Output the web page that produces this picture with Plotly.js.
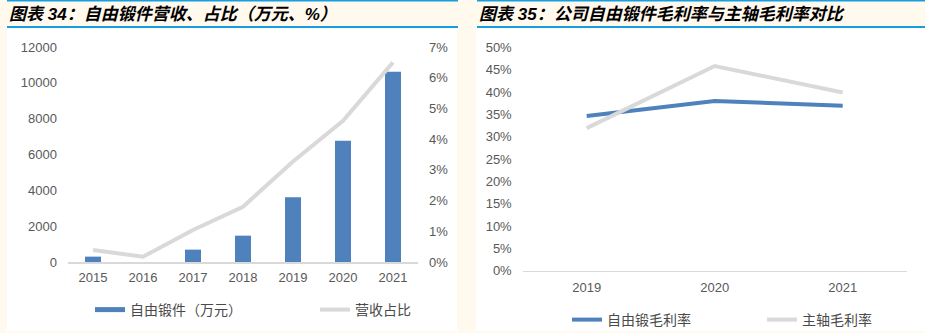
<!DOCTYPE html>
<html>
<head>
<meta charset="utf-8">
<script src="https://cdn.plot.ly/plotly-3.0.1.min.js"></script>
<style>
html,body{margin:0;padding:0;background:#FFF9EE;}
#chart{width:925px;height:333px;}
</style>
</head>
<body>
<div id="chart"></div>
<script>
// ---- Data ----
const years1 = ['2015', '2016', '2017', '2018', '2019', '2020', '2021'];
const forgingRevenue = [300, 0, 690, 1470, 3620, 6770, 10620]; // 万元
const revenueShare = [0.0039, 0.0017, 0.0104, 0.018, 0.0327, 0.046, 0.065];

const years2 = ['2019', '2020', '2021'];
const forgingMargin = [0.346, 0.380, 0.369];
const spindleMargin = [0.319, 0.458, 0.399];

const title1 = '图表 34：自由锻件营收、占比（万元、%）';
const title2 = '图表 35：公司自由锻件毛利率与主轴毛利率对比';
const name1 = '自由锻件（万元）';
const name2 = '营收占比';
const name3 = '自由锻毛利率';
const name4 = '主轴毛利率';

// ---- Styles ----
const W = 925, H = 333;
const px = v => v / W;
const py = v => 1 - v / H;
const BLUE = '#4F81BD';
const GRAY = '#D9D9D9';
const TICK = '#595959';
const CJK = '"Noto Sans CJK SC", sans-serif';

const traces = [
  {type: 'bar', x: years1, y: forgingRevenue, xaxis: 'x', yaxis: 'y',
   marker: {color: BLUE}, name: name1, showlegend: false, hoverinfo: 'skip'},
  {type: 'scatter', mode: 'lines', x: [null], y: [null], xaxis: 'x', yaxis: 'y',
   line: {color: BLUE, width: 5}, name: name1, legend: 'legend'},
  {type: 'scatter', mode: 'lines', x: years1, y: revenueShare, xaxis: 'x', yaxis: 'y2',
   line: {color: GRAY, width: 4}, name: name2, legend: 'legend'},
  {type: 'scatter', mode: 'lines', x: years2, y: forgingMargin, xaxis: 'x2', yaxis: 'y3',
   line: {color: BLUE, width: 4}, name: name3, legend: 'legend2'},
  {type: 'scatter', mode: 'lines', x: years2, y: spindleMargin, xaxis: 'x2', yaxis: 'y3',
   line: {color: GRAY, width: 4}, name: name4, legend: 'legend2'}
];

const axisBase = {showgrid: false, zeroline: false, ticks: '', fixedrange: true};
const legendBase = {orientation: 'h', xanchor: 'left', yanchor: 'middle',
  bgcolor: 'rgba(0,0,0,0)', borderwidth: 0, traceorder: 'normal',
  entrywidthmode: 'pixels', font: {family: CJK, size: 14, color: '#4A4A4A'}};

const layout = {
  width: W, height: H,
  margin: {l: 0, r: 0, t: 0, b: 0, pad: 0, autoexpand: false},
  paper_bgcolor: '#FFF9EE',
  plot_bgcolor: 'rgba(0,0,0,0)',
  bargap: 0.68,
  font: {family: '"Liberation Sans", Arial, sans-serif', size: 13, color: TICK},
  xaxis: Object.assign({}, axisBase, {domain: [px(68), px(418)], anchor: 'y', type: 'category',
    range: [-0.5, years1.length - 0.5],
    showline: true, linecolor: GRAY, linewidth: 1.5, ticklabelstandoff: 3}),
  yaxis: Object.assign({}, axisBase, {domain: [py(262), py(47)], anchor: 'x',
    range: [0, 12000], dtick: 2000, tickformat: 'd', ticklabelstandoff: 10}),
  yaxis2: Object.assign({}, axisBase, {overlaying: 'y', side: 'right', anchor: 'x',
    range: [0, 0.07], dtick: 0.01, tickformat: '.0%', ticklabelstandoff: 10}),
  xaxis2: Object.assign({}, axisBase, {domain: [px(522.7), px(906.7)], anchor: 'y3', type: 'category',
    range: [-0.5, years2.length - 0.5],
    showline: true, linecolor: GRAY, linewidth: 1.5, ticklabelstandoff: 4}),
  yaxis3: Object.assign({}, axisBase, {domain: [py(270.7), py(47.3)], anchor: 'x2',
    range: [0, 0.5], dtick: 0.05, tickformat: '.0%', ticklabelstandoff: 10}),
  legend: Object.assign({}, legendBase, {x: px(90), y: py(310), entrywidth: 180}),
  legend2: Object.assign({}, legendBase, {x: px(567), y: py(320), entrywidth: 150}),
  shapes: [
    {type: 'rect', xref: 'paper', yref: 'paper', x0: px(7), x1: px(457), y0: py(331), y1: py(28),
     fillcolor: '#FFFFFF', line: {width: 0}, layer: 'below'},
    {type: 'rect', xref: 'paper', yref: 'paper', x0: px(476), x1: px(925), y0: py(331), y1: py(28),
     fillcolor: '#FFFFFF', line: {width: 0}, layer: 'below'},
    {type: 'line', xref: 'paper', yref: 'paper', x0: px(7), x1: px(458), y0: py(0.7), y1: py(0.7),
     line: {color: '#14A0E0', width: 1.5}},
    {type: 'line', xref: 'paper', yref: 'paper', x0: px(7), x1: px(458), y0: py(27), y1: py(27),
     line: {color: '#14A0E0', width: 2}},
    {type: 'line', xref: 'paper', yref: 'paper', x0: px(477), x1: px(925), y0: py(0.7), y1: py(0.7),
     line: {color: '#14A0E0', width: 1.5}},
    {type: 'line', xref: 'paper', yref: 'paper', x0: px(477), x1: px(925), y0: py(27), y1: py(27),
     line: {color: '#14A0E0', width: 2}}
  ],
  annotations: [
    {text: title1, xref: 'paper', yref: 'paper', x: px(7), y: py(14), xanchor: 'left', yanchor: 'middle',
     showarrow: false, font: {family: '"Liberation Sans", ' + CJK, size: 17, weight: 'bold', style: 'italic', color: '#000'}},
    {text: title2, xref: 'paper', yref: 'paper', x: px(477), y: py(14), xanchor: 'left', yanchor: 'middle',
     showarrow: false, font: {family: '"Liberation Sans", ' + CJK, size: 17, weight: 'bold', style: 'italic', color: '#000'}}
  ]
};

Plotly.newPlot('chart', traces, layout, {staticPlot: true, displayModeBar: false});
</script>
</body>
</html>
